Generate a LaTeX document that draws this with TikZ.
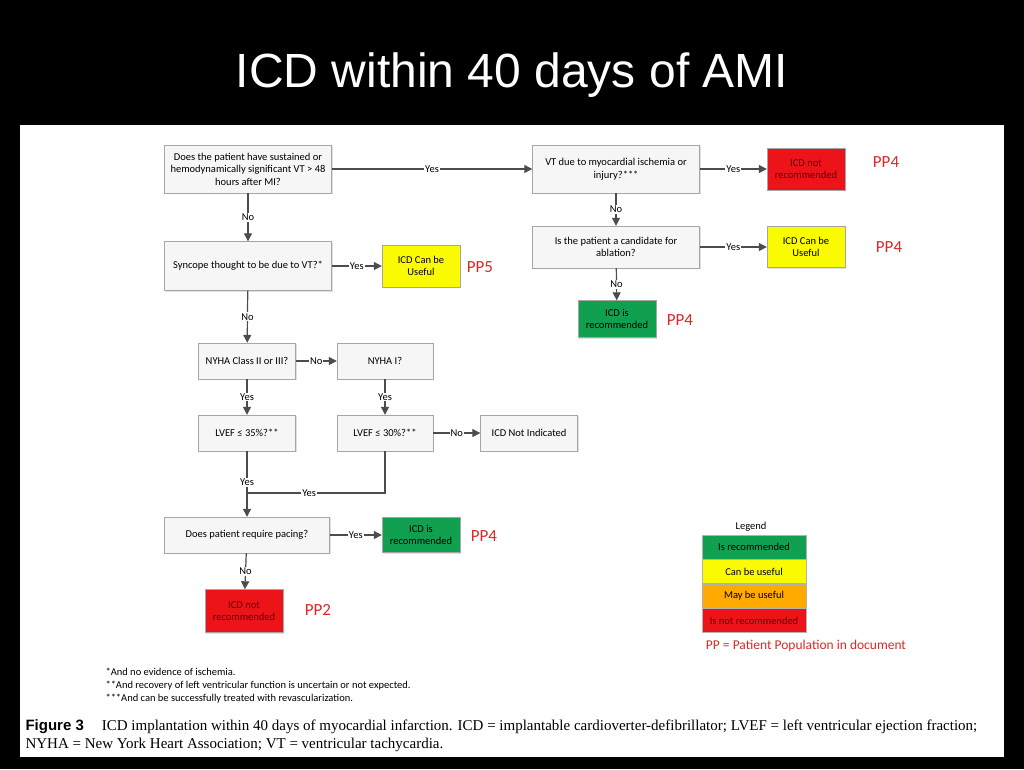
\documentclass[tikz,border=0pt]{standalone}
\usepackage{fontspec}
\setmainfont{Liberation Serif}
\newfontfamily\boxfont{Carlito}
\newfontfamily\titlefont{Liberation Sans}
\usetikzlibrary{positioning, arrows.meta, shadows}
\definecolor{recgreen}{RGB}{16,160,80}
\definecolor{useyellow}{RGB}{250,250,0}
\definecolor{mayorange}{RGB}{255,170,0}
\definecolor{notred}{RGB}{236,20,24}
\definecolor{ppred}{RGB}{220,40,40}
\tikzset{question/.style={draw=gray!70, fill=gray!7, drop shadow={shadow xshift=1pt, shadow yshift=-1pt, opacity=.25}, font=\boxfont\fontsize{10.5}{12.5}\selectfont, align=center, inner sep=2pt},
         verdict/.style={draw=gray!70, minimum width=78pt, font=\boxfont\fontsize{10.5}{12.5}\selectfont, align=center, drop shadow={shadow xshift=1pt, shadow yshift=-1pt, opacity=.25}},
         pp/.style={text=ppred, font=\boxfont\fontsize{17}{19}\selectfont},
         flow/.style={draw=black!70, line width=1.2pt, -{Triangle[length=8pt,width=8pt]}},
         tag/.style={fill=white, inner sep=1pt, font=\boxfont\fontsize{10.5}{11}\selectfont},
         key/.style={draw=gray!60, minimum width=104pt, minimum height=24pt, font=\boxfont\fontsize{10.5}{11}\selectfont},
        }
\begin{document}
\begin{tikzpicture}[x=1pt, y=-1pt]
        \fill[black](0,0)rectangle(1024,769);
        \useasboundingbox(0,0)rectangle(1024,769);
        \fill[white](20,125)rectangle(1004,757);
        \node[text=white, font=\titlefont\fontsize{48}{50}\selectfont](title)at(512,75){ICD within 40 days of AMI};

        % left column
        \node[question, minimum width=167pt, minimum height=48pt](q1)at(248,169){Does the patient have sustained or\\hemodynamically significant VT > 48\\hours after MI?};
        \node[question, minimum width=167pt, minimum height=49pt](q2)at(248,266){Syncope thought to be due to VT?*};
        \node[verdict, fill=useyellow, minimum height=42pt](y1)at(421,266){ICD Can be\\Useful};
        \node[pp](pp5)at(480,267){PP5};
        \node[question, minimum width=97pt, minimum height=36pt](q3)at(247,361){NYHA Class II or III?};
        \node[question, minimum width=96pt, minimum height=36pt](q4)at(385,361){NYHA I?};
        \node[question, minimum width=97pt, minimum height=36pt](q5)at(247,433){LVEF ≤ 35\%?**};
        \node[question, minimum width=96pt, minimum height=36pt](q6)at(385,433){LVEF ≤ 30\%?**};
        \node[question, minimum width=97pt, minimum height=36pt](ni)at(529,433){ICD Not Indicated};
        \coordinate(join)at(247,493);
        \coordinate(turn)at(385,493);
        \node[question, minimum width=165pt, minimum height=36pt](q7)at(247,535){Does patient require pacing?};
        \node[verdict, fill=recgreen, minimum height=35pt](g1)at(421,535){ICD is\\recommended};
        \node[pp](pp4a)at(484,536){PP4};
        \node[verdict, fill=notred, text=black!60!red, minimum height=43pt](r1)at(244,611){ICD not\\recommended};
        \node[pp](pp2)at(318,610){PP2};

        % right column
        \node[question, minimum width=167pt, minimum height=48pt](q8)at(616,169){VT due to myocardial ischemia or\\injury?***};
        \node[verdict, fill=notred, text=black!60!red, minimum height=42pt](r2)at(806,169){ICD not\\recommended};
        \node[pp](pp4b)at(886,162){PP4};
        \node[question, minimum width=167pt, minimum height=42pt](q9)at(616,247){Is the patient a candidate for\\ablation?};
        \node[verdict, fill=useyellow, minimum height=41pt](y2)at(806,247){ICD Can be\\Useful};
        \node[pp](pp4c)at(889,247){PP4};
        \node[verdict, fill=recgreen, minimum height=37pt](g2)at(617,319){ICD is\\recommended};
        \node[pp](pp4d)at(680,320){PP4};

        \draw[flow](q1)--node[tag]{Yes}(q8);
        \draw[flow](q1)--node[tag]{No}(q2);
        \draw[flow](q2)--node[tag]{Yes}(y1);
        \draw[flow](q2)--node[tag]{No}(q3);
        \draw[flow](q3)--node[tag]{No}(q4);
        \draw[flow](q3)--node[tag]{Yes}(q5);
        \draw[flow](q4)--node[tag]{Yes}(q6);
        \draw[flow](q6)--node[tag]{No}(ni);
        \draw[line width=1.2pt, draw=black!70](q5)--node[tag, pos=.75]{Yes}(join);
        \draw[line width=1.2pt, draw=black!70](q6)--(turn)--node[tag, pos=.55]{Yes}(join);
        \draw[flow](join)--(q7);
        \draw[flow](q7)--node[tag]{Yes}(g1);
        \draw[flow](q7)--node[tag]{No}(r1);
        \draw[flow](q8)--node[tag]{Yes}(r2);
        \draw[flow](q8)--node[tag]{No}(q9);
        \draw[flow](q9)--node[tag]{Yes}(y2);
        \draw[flow](q9)--node[tag]{No}(g2);

        % legend
        \node[font=\boxfont\fontsize{10.5}{11}\selectfont](legend)at(751,527){Legend};
        \node[key, fill=recgreen, anchor=north](l1)at(754,535){Is recommended};
        \node[key, fill=useyellow, below=0pt of l1](l2){Can be useful};
        \node[key, fill=mayorange, below=0pt of l2](l3){May be useful};
        \node[key, fill=notred, text=black!60!red, below=0pt of l3](l4){Is not recommended};
        \node[text=ppred, font=\boxfont\fontsize{13.5}{14}\selectfont](ppkey)at(806,646){PP = Patient Population in document};

        % notes and caption
        \node[anchor=west, align=left, font=\boxfont\fontsize{10.5}{13}\selectfont](notes)at(102,686){*And no evidence of ischemia.\\**And recovery of left ventricular function is uncertain or not expected.\\***And can be successfully treated with revascularization.};
        \node[anchor=west, align=left, font=\fontsize{15}{18}\selectfont](caption)at(22,736){{\titlefont\bfseries Figure 3}\hspace{18pt}ICD implantation within 40 days of myocardial infarction. ICD = implantable cardioverter-defibrillator; LVEF = left ventricular ejection fraction;\\NYHA = New York Heart Association; VT = ventricular tachycardia.};
\end{tikzpicture}
\end{document}
